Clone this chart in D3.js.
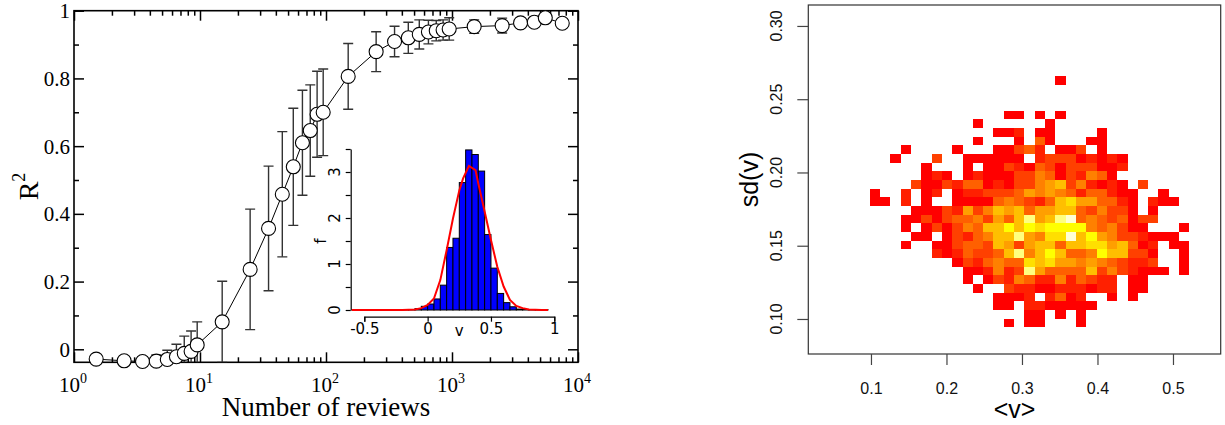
<!DOCTYPE html>
<html>
<head>
<meta charset="utf-8">
<script src="https://cdn.jsdelivr.net/npm/d3@7"></script>
<style>
  body { margin: 0; background: #fff; }
  svg { display: block; }
</style>
</head>
<body>
<div id="chart"></div>
<script>
// left panel: R^2 against number of reviews (log x)
const reviews = [1.5, 2.5, 3.5, 4.5, 5.5, 6.5, 7.5, 8.5, 9.5, 15, 25, 35, 45, 55, 65, 75, 85, 95,
  150, 250, 350, 450, 550, 650, 750, 850, 950, 1500, 2500, 3500, 4500, 5500, 7500];
const r2 = [-0.029, -0.034, -0.036, -0.035, -0.030, -0.022, -0.012, -0.006, 0.013, 0.081, 0.236, 0.357,
  0.458, 0.539, 0.610, 0.646, 0.694, 0.700, 0.806, 0.879, 0.909, 0.920, 0.930, 0.937, 0.941, 0.943,
  0.946, 0.953, 0.956, 0.964, 0.966, 0.979, 0.963];
const r2Err = [0, 0.005, 0.014, 0.018, 0.027, 0.037, 0.051, 0.060, 0.068, 0.120, 0.178, 0.184,
  0.185, 0.173, 0.155, 0.135, 0.127, 0.128, 0.097, 0.059, 0.045, 0.046, 0.043, 0.035, 0.030, 0.030,
  0.033, 0.020, 0.022, 0, 0, 0, 0];
const r2Ticks = [0, 0.2, 0.4, 0.6, 0.8, 1];
const r2Minor = [0.1, 0.3, 0.5, 0.7, 0.9];
const reviewDecades = [1, 10, 100, 1000, 10000];

// inset: distribution of v
const vBinStarts = [-0.2, -0.15, -0.1, -0.05, 0, 0.05, 0.1, 0.15, 0.2, 0.25, 0.3, 0.35, 0.4, 0.45,
  0.5, 0.55, 0.6, 0.65, 0.7, 0.75, 0.8, 0.85, 0.9];
const vDensity = [0.01, 0.01, 0.03, 0.08, 0.13, 0.24, 0.54, 1.36, 1.56, 2.77, 3.48, 3.38, 3.02, 1.64,
  0.91, 0.36, 0.16, 0.07, 0.02, 0.01, 0.005, 0.005, 0.01];
const vBinWidth = 0.05;
const fitV = [-0.6, -0.4, -0.2, -0.1, -0.05, 0, 0.05, 0.1, 0.15, 0.2, 0.25, 0.28, 0.326, 0.378, 0.4,
  0.45, 0.5, 0.55, 0.6, 0.65, 0.7, 0.75, 0.8, 0.9, 0.95];
const fitF = [0, 0, 0, 0.01, 0.04, 0.11, 0.25, 0.65, 1.3, 1.99, 2.6, 2.86, 3.13, 3.04, 2.75,
  2.14, 1.52, 0.94, 0.51, 0.22, 0.09, 0.04, 0.01, 0, 0];
const insetXTicks = [-0.5, 0, 0.5, 1];
const insetYTicks = [0, 0.5, 1, 1.5, 2, 2.5, 3, 3.5];

// right panel: 2D histogram of <v> and sd(v); levels 1..12, '.' = empty, top row first
const meanBinStart = 0.0983, meanBinWidth = 0.01366;
const sdBinStart = 0.0942, sdBinWidth = 0.00592;
const levelRows = [
  "..................1............",
  "...............................",
  "...............................",
  "...............................",
  ".............11.1.1............",
  "..........1......1.............",
  "............112.11....1........",
  "..........1...1.41...11........",
  "...1....1...11342.113.1........",
  "..1...3..111111.233312121......",
  ".....1...1.11321431333112......",
  ".....121.121113354132541.......",
  "....311324412133567352121.3....",
  "1..2.12.122333465654244211..1..",
  "11.2.1..111145432478664421.211.",
  "....1113263576746677435331.1...",
  "...113134453647b67bc45434133...",
  "...1.1313547797989999545311...1",
  "....11.1324577b6588c7965332111.",
  "...1..1134437636774778867412.11",
  "......21243347b5797445977331..1",
  "........13245448786656543223..1",
  ".........112523b6444473532111.1",
  ".........1.1325422524322.11....",
  "..........1..32211222122.11....",
  "............1112.2412..1.1.....",
  "............11.2211111.........",
  "...............11.1.1..........",
  ".............1.11...1.........."
];
const heatColors = ["#FF0000", "#FF2000", "#FF4000", "#FF6000", "#FF8000", "#FF9F00",
  "#FFBF00", "#FFDF00", "#FFFF00", "#FFFF2A", "#FFFF80", "#FFFFD5"];
const meanTicks = [0.1, 0.2, 0.3, 0.4, 0.5];
const sdTicks = [0.10, 0.15, 0.20, 0.25, 0.30];

const svg = d3.select("#chart").append("svg").attr("width", 1225).attr("height", 425);

drawLeft();
drawInset();
drawRight();

function drawLeft() {
  const L = { left: 74, right: 578, top: 10.7, bottom: 362.3 };
  const x = d3.scaleLog().domain([1, 1e4]).range([L.left, L.right]);
  const y = d3.scaleLinear().domain([-0.0384, 1]).range([L.bottom, L.top]);
  const g = svg.append("g");

  g.append("clipPath").attr("id", "clipL").append("rect")
    .attr("x", L.left).attr("y", L.top)
    .attr("width", L.right - L.left).attr("height", L.bottom - L.top);

  const minor = [];
  [1, 10, 100, 1000].forEach((d) => {
    for (let m = 2; m <= 9; m++) minor.push(d * m);
  });

  // ticks pointing inward on all four sides
  const axes = [
    [d3.axisBottom, `translate(0,${L.bottom})`, x, reviewDecades, minor],
    [d3.axisTop, `translate(0,${L.top})`, x, reviewDecades, minor],
    [d3.axisLeft, `translate(${L.left},0)`, y, r2Ticks, r2Minor],
    [d3.axisRight, `translate(${L.right},0)`, y, r2Ticks, r2Minor]
  ];
  axes.forEach(([ax, tr, sc, major, mnr]) => {
    g.append("g").attr("transform", tr)
      .call(ax(sc).tickValues(major).tickSizeInner(-10).tickSizeOuter(0).tickFormat(""))
      .call((a) => a.select(".domain").remove());
    g.append("g").attr("transform", tr)
      .call(ax(sc).tickValues(mnr).tickSizeInner(-5).tickSizeOuter(0).tickFormat(""))
      .call((a) => a.select(".domain").remove());
  });
  g.selectAll(".tick line").attr("stroke", "#000").attr("stroke-width", 1.5);

  g.append("rect")
    .attr("x", L.left).attr("y", L.top)
    .attr("width", L.right - L.left).attr("height", L.bottom - L.top)
    .attr("fill", "none").attr("stroke", "#000").attr("stroke-width", 1.6);

  const serif = "'Liberation Serif', 'Times New Roman', serif";

  g.selectAll(".ylab").data(r2Ticks).enter().append("text")
    .attr("x", 70).attr("y", (d) => y(d) + 7.4)
    .attr("text-anchor", "end")
    .attr("font-family", serif).attr("font-size", 21)
    .text((d) => d);

  const xl = g.selectAll(".xlab").data(reviewDecades).enter().append("text")
    .attr("x", (d) => x(d) - 1).attr("y", 391.7)
    .attr("text-anchor", "middle")
    .attr("font-family", serif).attr("font-size", 21);
  xl.append("tspan").text("10");
  xl.append("tspan").attr("dy", -9).attr("font-size", 14).text((d) => Math.round(Math.log10(d)));

  g.append("text")
    .attr("x", (L.left + L.right) / 2).attr("y", 416)
    .attr("text-anchor", "middle")
    .attr("font-family", serif).attr("font-size", 27)
    .text("Number of reviews");

  const yt = g.append("text")
    .attr("transform", `translate(38,${(L.top + L.bottom) / 2}) rotate(-90)`)
    .attr("text-anchor", "middle")
    .attr("font-family", serif).attr("font-size", 28);
  yt.append("tspan").text("R");
  yt.append("tspan").attr("dy", -13).attr("font-size", 18).text("2");

  const pts = reviews.map((d, i) => ({ n: d, r: r2[i], e: r2Err[i] }));
  const body = g.append("g").attr("clip-path", "url(#clipL)");

  body.append("path").datum(pts)
    .attr("fill", "none").attr("stroke", "#000").attr("stroke-width", 1)
    .attr("d", d3.line().x((d) => x(d.n)).y((d) => y(d.r)));

  const err = body.selectAll(".err").data(pts.filter((d) => d.e > 0)).enter().append("g")
    .attr("stroke", "#333").attr("stroke-width", 1.4);
  err.append("line")
    .attr("x1", (d) => x(d.n)).attr("x2", (d) => x(d.n))
    .attr("y1", (d) => y(d.r - d.e)).attr("y2", (d) => y(d.r + d.e));
  [1, -1].forEach((s) => {
    err.append("line")
      .attr("x1", (d) => x(d.n) - 5).attr("x2", (d) => x(d.n) + 5)
      .attr("y1", (d) => y(d.r + s * d.e)).attr("y2", (d) => y(d.r + s * d.e));
  });

  g.selectAll(".pt").data(pts).enter().append("circle")
    .attr("cx", (d) => x(d.n)).attr("cy", (d) => y(d.r)).attr("r", 7)
    .attr("fill", "#fff").attr("stroke", "#000").attr("stroke-width", 1.1);
}

function drawInset() {
  const x = d3.scaleLinear().domain([-0.5, 1]).range([364.3, 554.3]);
  const y = d3.scaleLinear().domain([0, 3.5]).range([310, 149]);
  const g = svg.append("g");
  const sans = "'DejaVu Sans', sans-serif";

  g.selectAll(".bar").data(vBinStarts).enter().append("rect")
    .attr("x", (d) => x(d)).attr("width", (d) => x(d + vBinWidth) - x(d))
    .attr("y", (d, i) => y(vDensity[i])).attr("height", (d, i) => y(0) - y(vDensity[i]))
    .attr("fill", "#0000FF").attr("stroke", "#000").attr("stroke-width", 1);

  g.append("path").datum(fitV.map((d, i) => [d, fitF[i]]))
    .attr("fill", "none").attr("stroke", "#FF0000").attr("stroke-width", 2)
    .attr("d", d3.line().x((d) => x(d[0])).y((d) => y(d[1])));

  const xa = g.append("g").attr("transform", "translate(0,316.7)")
    .call(d3.axisBottom(x).tickValues(insetXTicks).tickSize(5).tickPadding(2).tickFormat((d) => d));
  xa.selectAll("text").attr("font-family", sans).attr("font-size", 15).attr("fill", "#000");

  const ya = g.append("g").attr("transform", "translate(350.7,0)")
    .call(d3.axisLeft(y).tickValues(insetYTicks).tickSize(5).tickSizeOuter(0).tickFormat(""));
  g.selectAll(".domain, .tick line").attr("stroke", "#000").attr("stroke-width", 1.2);

  ya.selectAll(".ylab").data(insetYTicks.filter((d) => Number.isInteger(d))).enter().append("text")
    .attr("transform", (d) => `translate(-10.5,${y(d)}) rotate(-90)`)
    .attr("text-anchor", "middle")
    .attr("font-family", sans).attr("font-size", 15).attr("fill", "#000")
    .text((d) => d);

  g.append("text").attr("transform", "translate(326,241) rotate(-90)")
    .attr("text-anchor", "middle").attr("font-family", sans).attr("font-size", 15)
    .text("f");
  g.append("text").attr("x", 459.3).attr("y", 336)
    .attr("text-anchor", "middle").attr("font-family", sans).attr("font-size", 15)
    .text("v");
}

function drawRight() {
  const R = { left: 808.3, right: 1220.7, top: 5, bottom: 354 };
  const x = d3.scaleLinear().domain([0.017, 0.5632]).range([R.left, R.right]);
  const y = d3.scaleLinear().domain([0.0761, 0.3143]).range([R.bottom, R.top]);
  const g = svg.append("g");
  const sans = "'Liberation Sans', Arial, sans-serif";
  const color = d3.scaleOrdinal().domain(d3.range(1, 13)).range(heatColors);

  const cells = [];
  const nRows = levelRows.length;
  levelRows.forEach((row, r) => {
    row.split("").forEach((ch, c) => {
      if (ch === ".") return;
      cells.push({
        mean: meanBinStart + c * meanBinWidth,
        sd: sdBinStart + (nRows - 1 - r) * sdBinWidth,
        level: parseInt(ch, 16)
      });
    });
  });

  g.selectAll(".cell").data(cells).enter().append("rect")
    .attr("x", (d) => x(d.mean))
    .attr("width", (d) => x(d.mean + meanBinWidth) - x(d.mean))
    .attr("y", (d) => y(d.sd + sdBinWidth))
    .attr("height", (d) => y(d.sd) - y(d.sd + sdBinWidth))
    .attr("fill", (d) => color(d.level))
    .attr("shape-rendering", "crispEdges");

  g.append("rect")
    .attr("x", R.left).attr("y", R.top)
    .attr("width", R.right - R.left).attr("height", R.bottom - R.top)
    .attr("fill", "none").attr("stroke", "#333").attr("stroke-width", 1.2);

  const xa = g.append("g").attr("transform", `translate(0,${R.bottom})`)
    .call(d3.axisBottom(x).tickValues(meanTicks).tickSize(11).tickPadding(18).tickFormat(d3.format(".1f")));
  xa.select(".domain").remove();
  xa.selectAll("text").attr("font-family", sans).attr("font-size", 16).attr("fill", "#111");

  const ya = g.append("g").attr("transform", `translate(${R.left},0)`)
    .call(d3.axisLeft(y).tickValues(sdTicks).tickSize(11).tickFormat(""));
  ya.select(".domain").remove();
  ya.selectAll(".ylab").data(sdTicks).enter().append("text")
    .attr("transform", (d) => `translate(-26.6,${y(d)}) rotate(-90)`)
    .attr("text-anchor", "middle")
    .attr("font-family", sans).attr("font-size", 16).attr("fill", "#111")
    .text(d3.format(".2f"));
  g.selectAll(".tick line").attr("stroke", "#444").attr("stroke-width", 1.2);

  g.append("text")
    .attr("x", (R.left + R.right) / 2).attr("y", 418)
    .attr("text-anchor", "middle").attr("font-family", sans).attr("font-size", 25)
    .text("<v>");
  g.append("text")
    .attr("transform", `translate(758,${(R.top + R.bottom) / 2}) rotate(-90)`)
    .attr("text-anchor", "middle").attr("font-family", sans).attr("font-size", 25)
    .text("sd(v)");
}
</script>
</body>
</html>
